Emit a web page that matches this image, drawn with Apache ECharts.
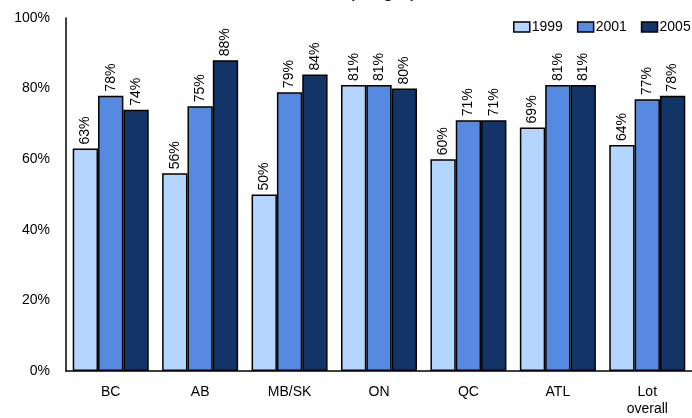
<!DOCTYPE html>
<html>
<head>
<meta charset="utf-8">
<script src="https://cdn.jsdelivr.net/npm/echarts@6/dist/echarts.min.js"></script>
<style>
  html, body { margin: 0; padding: 0; background: #fff; }
  #chart { width: 692px; height: 418px; }
</style>
</head>
<body>
<div id="chart"></div>
<script>
// Regions and survey years
const categories = ['BC', 'AB', 'MB/SK', 'ON', 'QC', 'ATL', 'Lot\noverall'];
const years = ['1999', '2001', '2005'];

// Share per region (%), one array per year
const values1999 = [63, 56, 50, 81, 60, 69, 64];
const values2001 = [78, 75, 79, 81, 71, 81, 77];
const values2005 = [74, 88, 84, 80, 71, 81, 78];

const yTicks = { min: 0, max: 100, interval: 20 };
const titleText = '(Target)';

const colors = ['#B4D5FE', '#568AE1', '#123466'];
const font = '"Liberation Sans", Arial, sans-serif';

const chart = echarts.init(document.getElementById('chart'), null, { renderer: 'canvas' });

function barSeries(name, data, color) {
  return {
    name: name,
    type: 'bar',
    data: data,
    barGap: '0%',
    barCategoryGap: '15%',
    itemStyle: { color: color, borderColor: '#000', borderWidth: 1.5 },
    label: {
      show: true,
      position: 'top',
      rotate: 90,
      align: 'left',
      verticalAlign: 'middle',
      distance: 4,
      formatter: '{c}%',
      fontFamily: font,
      fontSize: 14,
      color: '#000'
    }
  };
}

chart.setOption({
  animation: false,
  // title sits mostly above the visible area
  title: {
    text: titleText,
    left: 343,
    top: -24,
    textStyle: { fontFamily: font, fontSize: 20, fontWeight: 'normal', color: '#000' }
  },
  legend: {
    data: years,
    left: 508,
    top: 15,
    width: 240,
    itemWidth: 16,
    itemHeight: 10,
    itemGap: 14,
    icon: 'rect',
    itemStyle: { borderColor: '#000', borderWidth: 1.5 },
    textStyle: { fontFamily: font, fontSize: 14, color: '#000', padding: [0, 0, 0, -3] }
  },
  grid: { left: 66, top: 18, width: 640, height: 354, containLabel: false },
  xAxis: {
    type: 'category',
    data: categories,
    axisLine: { lineStyle: { color: '#000', width: 1.5 } },
    axisTick: { show: false },
    axisLabel: { margin: 13, fontFamily: font, fontSize: 14, color: '#000', lineHeight: 17 }
  },
  yAxis: {
    type: 'value',
    min: yTicks.min,
    max: yTicks.max,
    interval: yTicks.interval,
    axisLine: { show: true, lineStyle: { color: '#000', width: 1.5 } },
    axisTick: { show: false },
    splitLine: { show: false },
    axisLabel: { margin: 16, formatter: '{value}%', fontFamily: font, fontSize: 14, color: '#000' }
  },
  series: [
    barSeries(years[0], values1999, colors[0]),
    barSeries(years[1], values2001, colors[1]),
    barSeries(years[2], values2005, colors[2])
  ]
});
</script>
</body>
</html>
